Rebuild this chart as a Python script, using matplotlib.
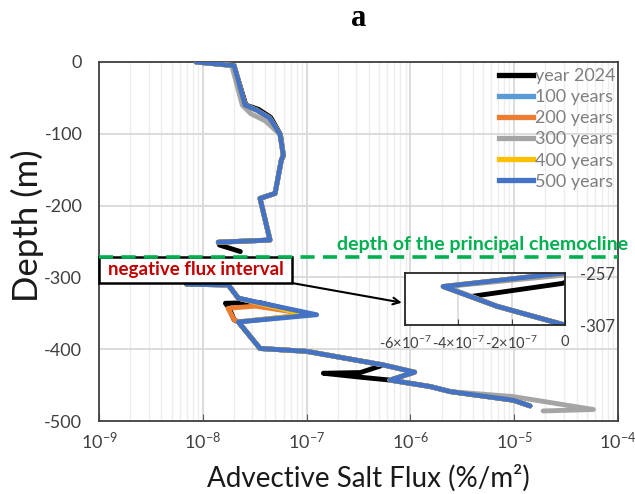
import numpy as np
import matplotlib
matplotlib.use('Agg')
import matplotlib.pyplot as plt
from matplotlib.lines import Line2D
from matplotlib.patches import Rectangle
from matplotlib.ticker import FixedLocator, LogLocator, NullFormatter

plt.rcParams['font.family'] = ['Lato', 'DejaVu Sans']
plt.rcParams['mathtext.fontset'] = 'custom'
plt.rcParams['mathtext.rm'] = 'Lato'
plt.rcParams['mathtext.it'] = 'Lato:italic'
plt.rcParams['mathtext.bf'] = 'Lato:bold'

# ---------------- data ----------------
series_labels = ['year 2024', '100 years', '200 years', '300 years', '400 years', '500 years']
series_colors = ['#000000', '#5B9BD5', '#ED7D31', '#A5A5A5', '#FFC000', '#4472C4']

depth_2024 = [0, -5, -60, -66, -77, -101, -130, -137, -183, -190, -248, -251, -255, -264, -267,
              -279.5, -289, -307, -309.5, -310.5, -329, -351, -335, -336, -343, -359, -362, -399,
              -403, -422, -432.5, -433.5, -439, -443, -452, -459, -471, -479]
flux_2024 = [8.6e-9, 2.0e-8, 2.6e-8, 3.45e-8, 4.5e-8, 5.6e-8, 5.97e-8, 5.7e-8, 4.97e-8, 3.56e-8,
             4.44e-8, 1.41e-8, 1.45e-8, 2.3e-8, -1e-8, -3.5e-7, -2.55e-7, -1e-9, 7e-9, 1.76e-8,
             2.2e-8, 1.0e-7, 3.5e-8, 1.65e-8, 1.8e-8, 2.0e-8, 2.2e-8, 3.56e-8, 1.0e-7, 5.5e-7,
             3.3e-7, 1.45e-7, 3.3e-7, 6.35e-7, 1.55e-6, 2.41e-6, 9.8e-6, 1.42e-5]

depth_100 = [0, -5, -60, -67, -78, -101, -130, -137, -183, -190, -248, -251, -257, -270, -289,
             -307, -309.5, -310.5, -329, -352, -362, -399, -403, -422, -432, -443, -452, -459,
             -471, -479]
flux_100 = [8.6e-9, 2.0e-8, 2.55e-8, 3.3e-8, 4.4e-8, 5.55e-8, 5.97e-8, 5.7e-8, 4.97e-8, 3.56e-8,
            4.44e-8, 1.41e-8, -1e-9, -4.57e-7, -2.55e-7, -1e-9, 7e-9, 1.76e-8, 2.2e-8, 1.0e-7,
            2.2e-8, 3.56e-8, 1.0e-7, 5.5e-7, 1.1e-6, 6.35e-7, 1.55e-6, 2.41e-6, 9.8e-6, 1.42e-5]

depth_200 = [0, -5, -60, -67, -78, -101, -130, -137, -183, -190, -248, -251, -257, -270, -289,
             -307, -309.5, -310.5, -329, -351, -340, -343, -359, -362, -399, -403, -422, -432,
             -443, -452, -459, -471, -479]
flux_200 = [8.6e-9, 2.0e-8, 2.55e-8, 3.3e-8, 4.4e-8, 5.55e-8, 5.97e-8, 5.7e-8, 4.97e-8, 3.56e-8,
            4.44e-8, 1.41e-8, -1e-9, -4.57e-7, -2.55e-7, -1e-9, 7e-9, 1.76e-8, 2.2e-8, 1.0e-7,
            3.2e-8, 1.75e-8, 2.0e-8, 2.2e-8, 3.56e-8, 1.0e-7, 5.5e-7, 1.1e-6, 6.35e-7, 1.55e-6,
            2.41e-6, 9.8e-6, 1.42e-5]

depth_300 = [0, -5, -60, -72, -82, -101, -130, -137, -183, -190, -248, -251, -259, -270, -289,
             -307, -309.5, -310.5, -329, -352, -362, -399, -403, -422, -432, -443, -452, -459,
             -466, -484, -486]
flux_300 = [8.6e-9, 1.9e-8, 2.4e-8, 2.9e-8, 4.0e-8, 5.55e-8, 5.97e-8, 5.7e-8, 4.97e-8, 3.56e-8,
            4.44e-8, 1.41e-8, -1e-9, -4.45e-7, -2.55e-7, -1e-9, 7e-9, 1.76e-8, 2.2e-8, 1.0e-7,
            2.2e-8, 3.56e-8, 1.0e-7, 5.5e-7, 1.1e-6, 6.35e-7, 1.55e-6, 2.41e-6, 9.8e-6, 5.8e-5,
            1.9e-5]

depth_400 = [0, -5, -60, -67, -78, -101, -130, -137, -183, -190, -248, -251, -257, -270, -289,
             -307, -309.5, -310.5, -329, -352, -362, -399, -403, -422, -432, -443, -452, -459,
             -471, -479]
flux_400 = [8.6e-9, 2.0e-8, 2.55e-8, 3.3e-8, 4.4e-8, 5.55e-8, 5.97e-8, 5.7e-8, 4.97e-8, 3.56e-8,
            4.44e-8, 1.41e-8, -1e-9, -4.57e-7, -2.55e-7, -1e-9, 7e-9, 1.76e-8, 2.2e-8, 1.0e-7,
            2.2e-8, 3.56e-8, 1.0e-7, 5.5e-7, 1.1e-6, 6.35e-7, 1.55e-6, 2.41e-6, 9.8e-6, 1.42e-5]

depth_500 = [0, -5, -60, -67, -78, -101, -130, -137, -183, -190, -248, -251, -257, -270, -289,
             -307, -309.5, -310.5, -329, -352, -362, -399, -403, -422, -432, -443, -452, -459,
             -471, -479]
flux_500 = [8.6e-9, 2.0e-8, 2.55e-8, 3.3e-8, 4.4e-8, 5.55e-8, 5.97e-8, 5.7e-8, 4.97e-8, 3.56e-8,
            4.44e-8, 1.41e-8, -1e-9, -4.57e-7, -2.55e-7, -1e-9, 7e-9, 1.76e-8, 2.2e-8, 1.25e-7,
            2.2e-8, 3.56e-8, 1.0e-7, 5.5e-7, 1.1e-6, 6.35e-7, 1.55e-6, 2.41e-6, 9.8e-6, 1.42e-5]

depths = [depth_2024, depth_100, depth_200, depth_300, depth_400, depth_500]
fluxes = [flux_2024, flux_100, flux_200, flux_300, flux_400, flux_500]

chemocline_depth = -271.5
neg_interval = (-257, -307)
main_xticks = [1e-9, 1e-8, 1e-7, 1e-6, 1e-5, 1e-4]
main_yticks = [-500, -400, -300, -200, -100, 0]
inset_xticks = [-6e-7, -4e-7, -2e-7, 0]
inset_xticklabels = ['-6×10$^{\\mathdefault{-7}}$', '-4×10$^{\\mathdefault{-7}}$',
                     '-2×10$^{\\mathdefault{-7}}$', '0']

# ---------------- figure ----------------
W, H = 635, 494
fig = plt.figure(figsize=(W / 100, H / 100), dpi=100)
ax = fig.add_axes([99 / W, 1 - 421 / H, 519 / W, 359 / H])
ax.set_xscale('log')
ax.set_xlim(1e-9, 1e-4)
ax.set_ylim(-500, 0)
ax.xaxis.set_major_locator(FixedLocator(main_xticks))
ax.set_yticks(main_yticks)
ax.set_yticklabels([str(v) for v in main_yticks])
ax.xaxis.set_minor_locator(LogLocator(base=10, subs=np.arange(2, 10), numticks=20))
ax.xaxis.set_minor_formatter(NullFormatter())
ax.set_axisbelow(True)
ax.grid(which='major', axis='both', color='#d9d9d9', lw=1.3)
ax.grid(which='minor', axis='x', color='#ededed', lw=1.0)
ax.tick_params(axis='x', which='major', direction='in', length=5, color='#595959',
               labelsize=13, pad=7, labelcolor='#404040')
ax.tick_params(axis='x', which='minor', length=0)
ax.tick_params(axis='y', length=0, labelsize=13, pad=12, labelcolor='#404040')
for s in ax.spines.values():
    s.set_color('#404040')
    s.set_linewidth(1.3)

for d, f, c in zip(depths, fluxes, series_colors):
    f = np.asarray(f, dtype=float)
    ax.plot(np.where(f > 0, f, np.nan), d, color=c, lw=3.5, solid_capstyle='round',
            solid_joinstyle='round', zorder=3)

# negative flux box
box_right = 7.22e-8
ax.add_patch(Rectangle((1e-9, -307.8), box_right - 1e-9, 36.3, facecolor='white',
                       edgecolor='black', lw=1.8, zorder=5, clip_on=False))
ax.text(8.5e-9, -289.5, 'negative flux interval', color='#C00000', fontweight='bold',
        fontsize=13.5, ha='center', va='center', zorder=7)

# chemocline
ax.axhline(chemocline_depth, color='#00B050', lw=2.6, ls=(0, (3.9, 2.3)), zorder=6)
ax.text(1.96e-7, -253.5, 'depth of the principal chemocline', color='#00B050',
        fontweight='bold', fontsize=14, ha='left', va='center', clip_on=False, zorder=7)

# legend
handles = [Line2D([], [], color=c, lw=3.8) for c in series_colors]
ax.legend(handles, series_labels, loc='upper right', bbox_to_anchor=(1.0, 0.99),
          frameon=False, fontsize=13, labelcolor='#7f7f7f', handlelength=1.9,
          handletextpad=0.1, labelspacing=0.28, borderaxespad=0.05, borderpad=0.1)

# inset
axin = fig.add_axes([405 / W, 1 - 325 / H, 160 / W, 52 / H])
axin.set_xlim(-6e-7, 0)
axin.set_ylim(neg_interval[1], neg_interval[0])
axin.set_xticks(inset_xticks)
axin.set_xticklabels(inset_xticklabels)
axin.yaxis.tick_right()
axin.set_yticks(list(neg_interval))
axin.set_yticklabels([str(v) for v in neg_interval])
axin.grid(axis='x', color='#d9d9d9', lw=1.2)
axin.set_axisbelow(True)
axin.tick_params(axis='x', direction='in', length=4, labelsize=10.5, pad=7,
                 labelcolor='#404040', color='#404040')
axin.tick_params(axis='y', length=0, labelsize=12, pad=11, labelcolor='#404040')
for s in axin.spines.values():
    s.set_color('#262626')
    s.set_linewidth(1.3)
for d, f, c in zip(depths, fluxes, series_colors):
    axin.plot(f, d, color=c, lw=3.5, solid_capstyle='round', solid_joinstyle='round')

ax.annotate('', xy=(-0.02, 0.43), xycoords=axin.transAxes, xytext=(box_right, -307.8),
            textcoords='data',
            arrowprops=dict(arrowstyle='->', color='black', lw=1.5, shrinkA=0, shrinkB=0,
                            mutation_scale=12), zorder=6, annotation_clip=False)

# labels and title
fig.text(27 / W, 1 - 226 / H, 'Depth (m)', rotation=90, fontsize=25, ha='center',
         va='center', color='#1a1a1a')
fig.text(368 / W, 1 - 478 / H, 'Advective Salt Flux (%/m²)', fontsize=20, ha='center',
         va='center', color='#1a1a1a')
fig.text(359 / W, 1 - 19 / H, 'a', family='Liberation Serif', fontweight='bold', fontsize=22,
         ha='center', va='center')

fig.savefig('out.png', dpi=100)
